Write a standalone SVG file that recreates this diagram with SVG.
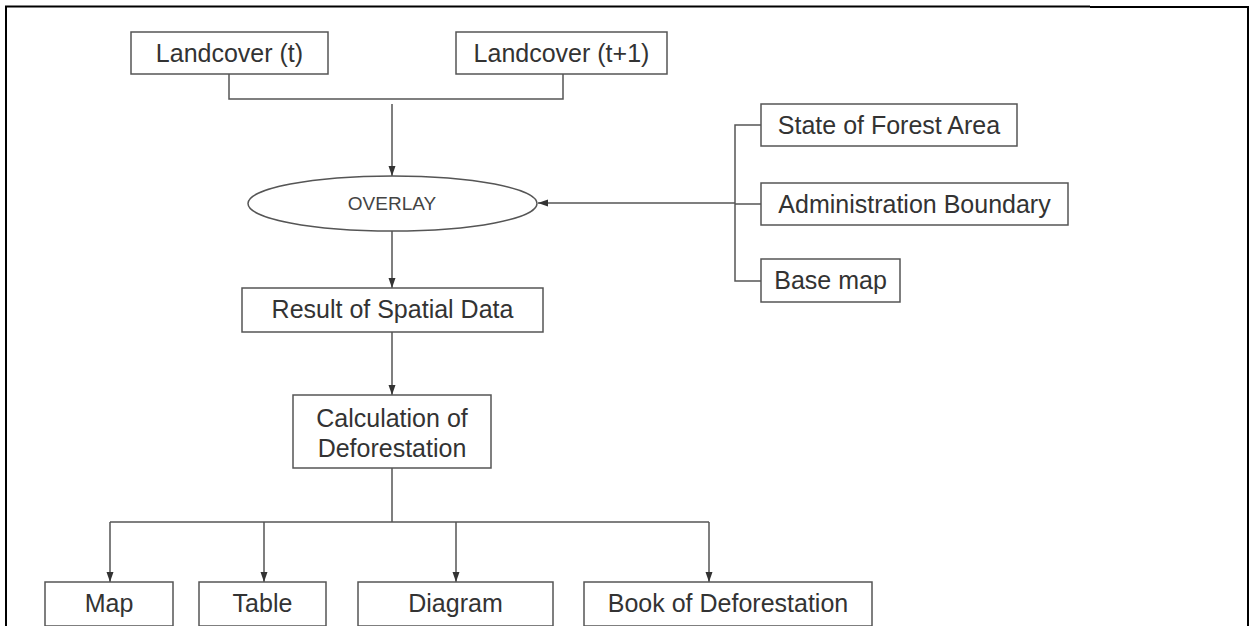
<svg xmlns="http://www.w3.org/2000/svg" width="1250" height="626" viewBox="0 0 1250 626">
<style>
.box{fill:#fff;stroke:#555;stroke-width:1.5}
.t{font-family:"Liberation Sans",Arial,sans-serif;font-size:25px;fill:#333;text-anchor:middle}
.ov{font-family:"Liberation Sans",Arial,sans-serif;font-size:19px;fill:#444;text-anchor:middle}
.c{fill:none;stroke:#555;stroke-width:1.5}
.frame{fill:none;stroke:#000;stroke-width:2}
</style>
<defs>
<marker id="ah" markerUnits="userSpaceOnUse" markerWidth="10" markerHeight="10" viewBox="0 0 10 10" refX="10" refY="5" orient="auto">
<path d="M0,1.5 L10,5 L0,8.5 Z" fill="#333"/>
</marker>
</defs>
<g id="frame">
<path class="frame" d="M6,626 V6.5 H1090"/>
<path class="frame" d="M1090,7 H1248 V626"/>
</g>
<g id="connectors">
<path class="c" d="M229,74 V99 H563 V74"/>
<path class="c" d="M392,104 V176" marker-end="url(#ah)"/>
<path class="c" d="M761,125 H735 V281 H761"/>
<path class="c" d="M735,204 H761"/>
<path class="c" d="M735,203 H538" marker-end="url(#ah)"/>
<path class="c" d="M392,231 V288" marker-end="url(#ah)"/>
<path class="c" d="M392,332 V395" marker-end="url(#ah)"/>
<path class="c" d="M392,468 V522 M110,522 H709"/>
<path class="c" d="M110,522 V582" marker-end="url(#ah)"/>
<path class="c" d="M264,522 V582" marker-end="url(#ah)"/>
<path class="c" d="M456,522 V582" marker-end="url(#ah)"/>
<path class="c" d="M709,522 V582" marker-end="url(#ah)"/>
</g>
<g id="landcover-t"><rect class="box" x="131" y="32" width="197" height="42"/><text class="t" x="229.5" y="62">Landcover (t)</text></g>
<g id="landcover-t1"><rect class="box" x="456" y="32" width="211" height="42"/><text class="t" x="561.5" y="62">Landcover (t+1)</text></g>
<g id="overlay"><ellipse class="box" cx="392.5" cy="203.5" rx="144.5" ry="27.5"/><text class="ov" x="392" y="210">OVERLAY</text></g>
<g id="state-forest"><rect class="box" x="761" y="104" width="256" height="42"/><text class="t" x="889" y="134">State of Forest Area</text></g>
<g id="admin-boundary"><rect class="box" x="761" y="183" width="307" height="42"/><text class="t" x="914.5" y="213">Administration Boundary</text></g>
<g id="base-map"><rect class="box" x="761" y="259" width="139" height="43"/><text class="t" x="830.5" y="289">Base map</text></g>
<g id="result"><rect class="box" x="242" y="288" width="301" height="44"/><text class="t" x="392.5" y="318">Result of Spatial Data</text></g>
<g id="calculation"><rect class="box" x="293" y="395" width="198" height="73"/><text class="t" x="392" y="427">Calculation of</text><text class="t" x="392" y="457">Deforestation</text></g>
<g id="map"><rect class="box" x="45" y="582" width="128" height="44"/><text class="t" x="109" y="612">Map</text></g>
<g id="table"><rect class="box" x="199" y="582" width="127" height="44"/><text class="t" x="262.5" y="612">Table</text></g>
<g id="diagram"><rect class="box" x="358" y="582" width="195" height="44"/><text class="t" x="455.5" y="612">Diagram</text></g>
<g id="book"><rect class="box" x="584" y="582" width="288" height="44"/><text class="t" x="728" y="612">Book of Deforestation</text></g>
</svg>
